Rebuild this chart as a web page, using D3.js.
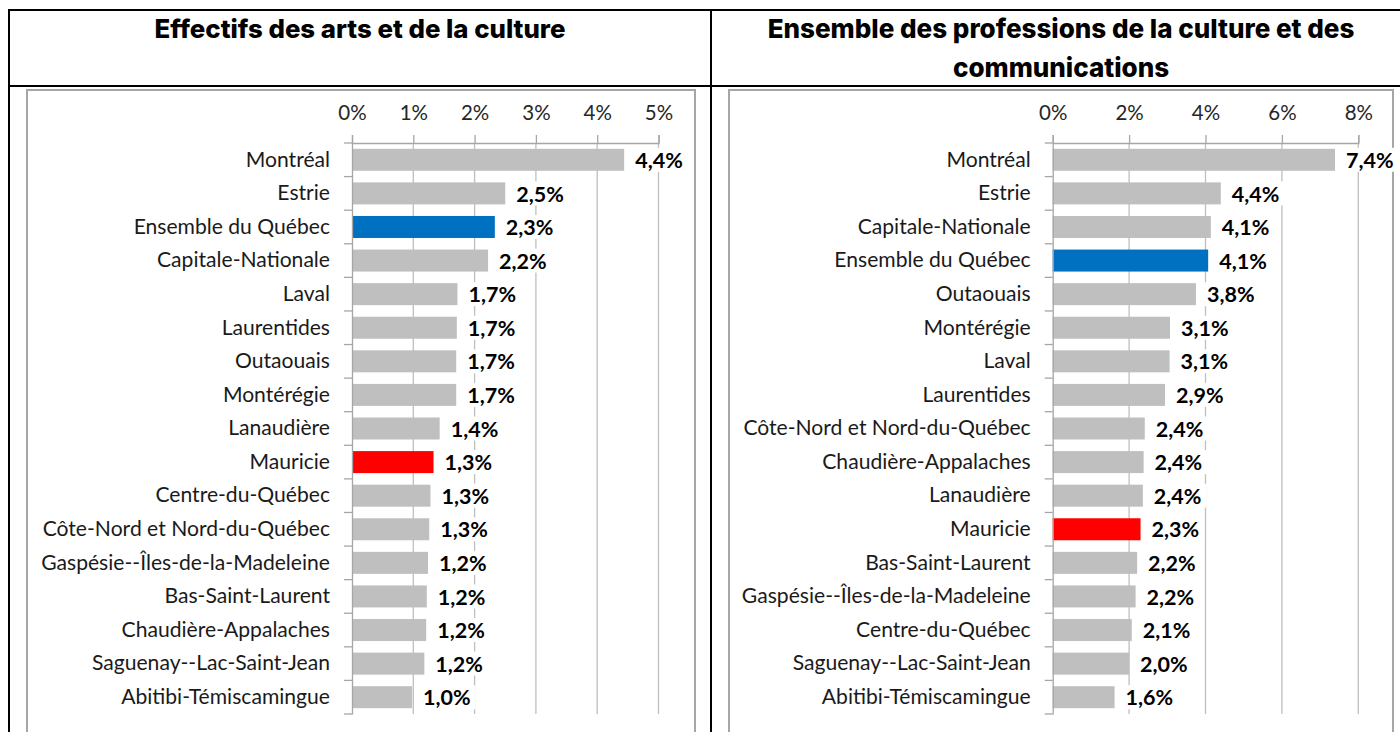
<!DOCTYPE html>
<html><head><meta charset="utf-8">
<script src="https://cdn.jsdelivr.net/npm/d3@7"></script>
<style>
html,body{margin:0;padding:0;background:#fff;overflow:hidden}
svg{display:block}
</style></head>
<body>
<svg id="chart" width="1400" height="732"></svg>
<script>
// ---- Data ----
const titleLeft = "Effectifs des arts et de la culture";
const titleRightLines = ["Ensemble des professions de la culture et des", "communications"];

const categoriesLeft = ["Montréal","Estrie","Ensemble du Québec","Capitale-Nationale","Laval","Laurentides","Outaouais","Montérégie","Lanaudière","Mauricie","Centre-du-Québec","Côte-Nord et Nord-du-Québec","Gaspésie--Îles-de-la-Madeleine","Bas-Saint-Laurent","Chaudière-Appalaches","Saguenay--Lac-Saint-Jean","Abitibi-Témiscamingue"];
const valuesLeft = [4.44,2.50,2.33,2.22,1.72,1.71,1.70,1.70,1.43,1.33,1.28,1.26,1.24,1.22,1.21,1.18,0.98];
const ticksLeft = [0,1,2,3,4,5];

const categoriesRight = ["Montréal","Estrie","Capitale-Nationale","Ensemble du Québec","Outaouais","Montérégie","Laval","Laurentides","Côte-Nord et Nord-du-Québec","Chaudière-Appalaches","Lanaudière","Mauricie","Bas-Saint-Laurent","Gaspésie--Îles-de-la-Madeleine","Centre-du-Québec","Saguenay--Lac-Saint-Jean","Abitibi-Témiscamingue"];
const valuesRight = [7.39,4.40,4.14,4.07,3.75,3.07,3.06,2.94,2.41,2.38,2.36,2.30,2.21,2.17,2.07,2.00,1.62];
const ticksRight = [0,2,4,6,8];

const highlightTotal = "Ensemble du Québec";
const highlightRegion = "Mauricie";

// ---- Drawing ----
const svg = d3.select("#chart");
const FONT = "Lato, 'Open Sans', 'Noto Sans', sans-serif";
const TITLE_FONT = "Inter, 'Noto Sans', sans-serif";

// table borders
const black = svg.append("g").attr("stroke","#000").attr("stroke-width",2);
black.append("line").attr("x1",9).attr("x2",1400).attr("y1",10).attr("y2",10);
black.append("line").attr("x1",9).attr("x2",1400).attr("y1",86).attr("y2",86);
black.append("line").attr("x1",9).attr("x2",9).attr("y1",9).attr("y2",732);
black.append("line").attr("x1",711).attr("x2",711).attr("y1",9).attr("y2",732);

function fitText(sel, target){
  const w = sel.node().getComputedTextLength();
  const fs = parseFloat(sel.attr("font-size"));
  sel.attr("font-size", fs*target/w);
}

// titles
const tl = svg.append("text").attr("x",360).attr("y",38).attr("text-anchor","middle")
  .attr("font-family",TITLE_FONT).attr("font-weight",800).attr("font-size",22).attr("fill","#000").text(titleLeft);
fitText(tl, 411);
const tr1 = svg.append("text").attr("x",1061).attr("y",38).attr("text-anchor","middle")
  .attr("font-family",TITLE_FONT).attr("font-weight",800).attr("font-size",22).attr("fill","#000").text(titleRightLines[0]);
fitText(tr1, 587);
svg.append("text").attr("x",1061).attr("y",77).attr("text-anchor","middle")
  .attr("font-family",TITLE_FONT).attr("font-weight",800).attr("font-size",tr1.attr("font-size")).attr("fill","#000").text(titleRightLines[1]);

function drawPanel(cfg){
  const g = svg.append("g");
  // chart frame
  g.append("rect").attr("x",cfg.frame[0]).attr("y",90).attr("width",cfg.frame[1]-cfg.frame[0]).attr("height",700)
    .attr("fill","none").attr("stroke","#A6A6A6").attr("stroke-width",2);

  const x = d3.scaleLinear().domain([0, d3.max(cfg.ticks)]).range([cfg.x0, cfg.x1]);
  const y = d3.scaleBand().domain(cfg.categories).range([143, 714]).paddingInner(0.345).paddingOuter(0.1725);
  const data = cfg.categories.map((c,i)=>({c, v: cfg.values[i]}));

  // gridlines
  g.append("g").selectAll("line").data(cfg.ticks.filter(t=>t>0)).join("line")
    .attr("x1",d=>x(d)).attr("x2",d=>x(d)).attr("y1",143).attr("y2",714)
    .attr("stroke","#BFBFBF").attr("stroke-width",1.3);

  // bars
  g.append("g").selectAll("rect").data(data).join("rect")
    .attr("x",x(0)).attr("y",d=>y(d.c)).attr("height",y.bandwidth())
    .attr("width",d=>x(d.v)-x(0))
    .attr("fill",d=>d.c===highlightTotal?"#0070C0":(d.c===highlightRegion?"#FF0000":"#BFBFBF"));

  // data labels with white background
  const lab = g.append("g").selectAll("g").data(data).join("g")
    .attr("transform",d=>`translate(${x(d.v)+11},${y(d.c)+y.bandwidth()/2})`);
  lab.append("text").attr("dy","0.38em")
    .attr("font-family",FONT).attr("font-weight",700).attr("font-size",21.5).attr("fill","#000")
    .text(d=>d3.format(".1f")(d.v).replace(".",",")+"%");
  lab.each(function(){
    const t = d3.select(this).select("text").node();
    const w = t.getComputedTextLength();
    d3.select(this).insert("rect","text").attr("x",-5).attr("y",-12).attr("width",w+10).attr("height",24).attr("fill","#fff");
  });

  // top axis
  const ax = g.append("g").attr("transform","translate(0,143)")
    .call(d3.axisTop(x).tickValues(cfg.ticks).tickSize(8).tickPadding(15).tickFormat(d=>d+"%"));
  ax.select(".domain").attr("stroke","#A6A6A6").attr("stroke-width",1.3);
  ax.selectAll(".tick line").attr("stroke","#A6A6A6").attr("stroke-width",1.3);
  ax.selectAll("text").attr("font-family",FONT).attr("font-size",20.5).attr("fill","#262626");

  // left axis
  const ay = g.append("g").attr("class","cat-axis").attr("transform",`translate(${x(0)},0)`)
    .call(d3.axisLeft(y).tickSize(0).tickPadding(22));
  ay.select(".domain").attr("stroke","#A6A6A6").attr("stroke-width",1.3);
  ay.selectAll("text").attr("font-family",FONT).attr("font-size",20).attr("fill","#1a1a1a");
  // boundary ticks
  const bounds = d3.range(cfg.categories.length+1).map(i=>143 + i*y.step());
  g.append("g").selectAll("line").data(bounds).join("line")
    .attr("x1",x(0)-8).attr("x2",x(0)).attr("y1",d=>d).attr("y2",d=>d)
    .attr("stroke","#A6A6A6").attr("stroke-width",1.3);
  return ay;
}

const ayL = drawPanel({categories:categoriesLeft, values:valuesLeft, ticks:ticksLeft, x0:352, x1:658.5, frame:[27,695]});
const ayR = drawPanel({categories:categoriesRight, values:valuesRight, ticks:ticksRight, x0:1052.7, x1:1358.3, frame:[729,1393]});

// fit category label size to reference width of longest label
let node = null;
ayL.selectAll("text").each(function(d){ if(d==="Gaspésie--Îles-de-la-Madeleine") node=this; });
if(node){
  const w = node.getComputedTextLength();
  const fs = 20*289/w;
  svg.selectAll(".cat-axis text").attr("font-size",fs);
}
</script>
</body></html>
